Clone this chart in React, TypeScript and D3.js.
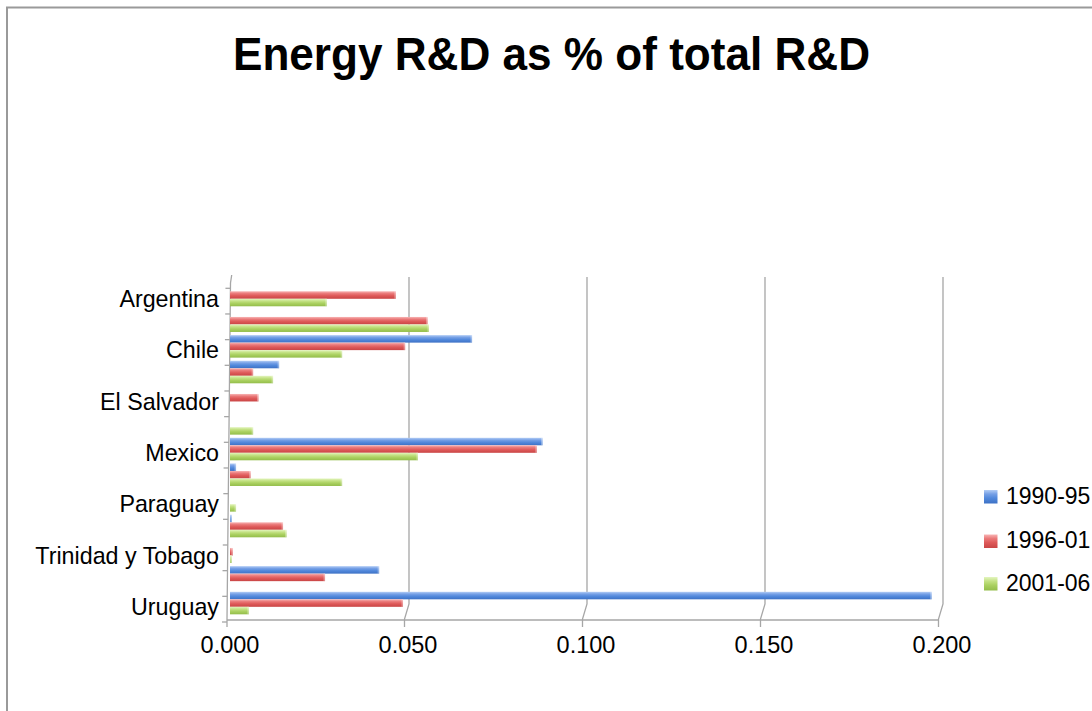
import React from "react";
import * as d3 from "d3";

const categories = [
  "Argentina",
  "Bolivia",
  "Chile",
  "Colombia",
  "El Salvador",
  "Guatemala",
  "Mexico",
  "Panama",
  "Paraguay",
  "Peru",
  "Trinidad y Tobago",
  "Venezuela",
  "Uruguay",
];
const seriesNames = ["1990-95", "1996-01", "2001-06"];
const v1990_95 = [0, 0, 0.068, 0.0138, 0, 0, 0.0878, 0.0017, 0, 0.0005, 0, 0.0419, 0.1971];
const v1996_01 = [0.0466, 0.0555, 0.0492, 0.0065, 0.008, 0, 0.0862, 0.0058, 0, 0.0149, 0.0008, 0.0267, 0.0486];
const v2001_06 = [0.0272, 0.0559, 0.0315, 0.0121, 0, 0.0065, 0.0528, 0.0315, 0.0017, 0.0159, 0.0005, 0, 0.0053];
const seriesValues = [v1990_95, v1996_01, v2001_06];
const xTicks = [0, 0.05, 0.1, 0.15, 0.2];

const gradients = [
  { id: "gBlue", stops: ["#b3cdf5", "#76a0e6", "#5289dc", "#3d71c5"] },
  { id: "gRed", stops: ["#f8b4b4", "#ea7979", "#de5959", "#c94545"] },
  { id: "gGreen", stops: ["#e4f5c0", "#c4e285", "#abd161", "#93bd4a"] },
];

const FONT = "'Liberation Sans', Arial, Helvetica, sans-serif";

export default function App() {
  const W = 1092;
  const H = 711;

  // bars (mid depth)
  const xBar = d3.scaleLinear().domain([0, 0.2]).range([230, 230 + 0.2 * 3560]);
  // back wall
  const xBack = d3.scaleLinear().domain([0, 0.2]).range([231, 231 + 0.2 * 3560]);
  const yBand = d3
    .scaleBand<string>()
    .domain(categories)
    .range([282.2, 615.9])
    .paddingInner(0.123)
    .paddingOuter(0.0615);
  const ySub = d3.scaleBand<string>().domain(seriesNames).range([0, yBand.bandwidth()]);

  const backTop = 277;
  const backFloor = 604;
  const frontFloor = 619;
  const dxFront = -4.5;

  const step = yBand.step();
  const tickYs = d3.range(categories.length + 1).map((k) => 288.3 + step * k);
  const axisX = (y: number) => 230.5 + ((y - 283) / (620 - 283)) * (227 - 230.5);

  return (
    <svg
      width={W}
      height={H}
      style={{ position: "absolute", left: 0, top: 0, display: "block", background: "#fff" }}
    >
      <defs>
        {gradients.map((g) => (
          <linearGradient key={g.id} id={g.id} x1="0" y1="0" x2="0" y2="1">
            <stop offset="0%" stopColor={g.stops[0]} />
            <stop offset="30%" stopColor={g.stops[1]} />
            <stop offset="60%" stopColor={g.stops[2]} />
            <stop offset="100%" stopColor={g.stops[3]} />
          </linearGradient>
        ))}
      </defs>

      {/* chart border */}
      <path d={`M7,${H} V7.5 H${W}`} fill="none" stroke="#9a9a9a" strokeWidth={2} />

      {/* title */}
      <text
        x={551.5}
        y={70}
        textAnchor="middle"
        fontFamily={FONT}
        fontWeight="bold"
        fontSize={46}
        textLength={637}
        lengthAdjust="spacingAndGlyphs"
        fill="#000"
      >
        Energy R&amp;D as % of total R&amp;D
      </text>

      {/* gridlines (back wall) */}
      {xTicks.slice(1).map((t) => {
        const xb = xBack(t);
        return (
          <path
            key={"g" + t}
            d={`M${xb},${backTop} V${backFloor} L${xb + dxFront},${frontFloor} V${frontFloor + 8}`}
            fill="none"
            stroke="#a6a6a6"
            strokeWidth={1.3}
          />
        );
      })}

      {/* floor line */}
      <line x1={axisX(620)} x2={xBack(0.2) + dxFront} y1={frontFloor + 1} y2={frontFloor + 1} stroke="#a6a6a6" strokeWidth={1.3} />
      <line x1={axisX(620)} x2={axisX(620)} y1={frontFloor + 1} y2={frontFloor + 8} stroke="#a6a6a6" strokeWidth={1.3} />

      {/* category axis */}
      <path
        d={`M231.7,275 L${axisX(283)},283 L${axisX(620)},620`}
        fill="none"
        stroke="#a6a6a6"
        strokeWidth={1.3}
      />
      {tickYs.map((y, k) => (
        <line key={"t" + k} x1={axisX(y) - 5} x2={axisX(y)} y1={y} y2={y} stroke="#a6a6a6" strokeWidth={1.3} />
      ))}

      {/* bars */}
      {categories.map((c, i) =>
        seriesNames.map((s, j) => {
          const v = seriesValues[j][i];
          if (!v) return null;
          const y0 = (yBand(c) as number) + (ySub(s) as number);
          const h = ySub.bandwidth();
          const x0 = xBar(0);
          const w = xBar(v) - x0;
          return (
            <g key={c + s}>
              <rect x={x0} y={y0} width={w} height={h} fill={`url(#${gradients[j].id})`} />
              <rect x={x0 + w - 1.5} y={y0} width={1.5} height={h} fill="#ffffff" opacity={0.35} />
            </g>
          );
        })
      )}

      {/* category labels */}
      {categories.map((c, i) =>
        i % 2 === 0 ? (
          <text
            key={"l" + c}
            transform={`translate(219,${(yBand(c) as number) + yBand.bandwidth() / 2 + 12}) scale(0.97,1)`}
            textAnchor="end"
            fontFamily={FONT}
            fontSize={24}
            fill="#000"
          >
            {c}
          </text>
        ) : null
      )}

      {/* value axis labels */}
      {xTicks.map((t) => (
        <text
          key={"x" + t}
          x={xBack(t) - 1}
          y={653}
          textAnchor="middle"
          fontFamily={FONT}
          fontSize={23.5}
          fill="#000"
        >
          {d3.format(".3f")(t)}
        </text>
      ))}

      {/* legend */}
      {seriesNames.map((s, j) => {
        const ly = [490, 534.5, 577][j];
        return (
          <g key={"lg" + s}>
            <rect x={984} y={ly} width={13.5} height={13.5} fill={`url(#${gradients[j].id})`} />
            <text x={1006} y={ly + 13.5} fontFamily={FONT} fontSize={23} fill="#000">
              {s}
            </text>
          </g>
        );
      })}
    </svg>
  );
}
